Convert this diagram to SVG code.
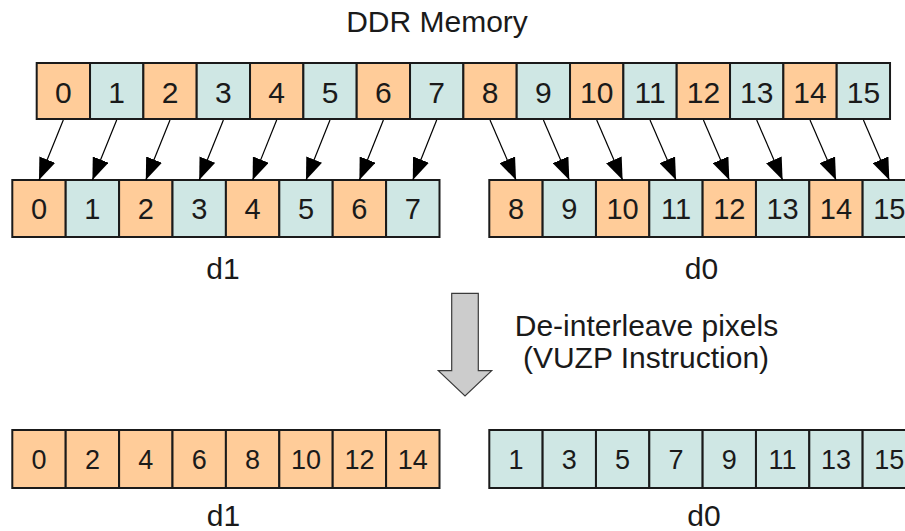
<svg xmlns="http://www.w3.org/2000/svg" width="905" height="531" viewBox="0 0 905 531">
<defs>
<style>
.o{fill:#ffcc99;stroke:#1a1a1a;stroke-width:2}
.t{fill:#cfe7e4;stroke:#1a1a1a;stroke-width:2}
text{font-family:"Liberation Sans",Arial,sans-serif;fill:#1a1a1a;text-anchor:middle}
.n1{font-size:30px}
.n2{font-size:29px}
.n3{font-size:27px}
.lb{font-size:30px}
.c{stroke:#000;stroke-width:1.2;fill:none;marker-end:url(#ah)}
</style>
<marker id="ah" viewBox="0 0 22 17" refX="22" refY="8.5" markerWidth="22" markerHeight="17" markerUnits="userSpaceOnUse" orient="auto">
<path d="M0,0 L22,8.5 L0,17 z" fill="#000"/>
</marker>
</defs>
<rect width="905" height="531" fill="#fff"/>
<text class="lb" x="437" y="32">DDR Memory</text>

<g id="ddr">
<rect class="o" x="36.7" y="63" width="53.33" height="56"/><text class="n1" x="63.3" y="102.5">0</text>
<rect class="t" x="90.03" y="63" width="53.33" height="56"/><text class="n1" x="116.7" y="102.5">1</text>
<rect class="o" x="143.37" y="63" width="53.33" height="56"/><text class="n1" x="170" y="102.5">2</text>
<rect class="t" x="196.7" y="63" width="53.33" height="56"/><text class="n1" x="223.4" y="102.5">3</text>
<rect class="o" x="250.03" y="63" width="53.33" height="56"/><text class="n1" x="276.7" y="102.5">4</text>
<rect class="t" x="303.37" y="63" width="53.33" height="56"/><text class="n1" x="330" y="102.5">5</text>
<rect class="o" x="356.7" y="63" width="53.33" height="56"/><text class="n1" x="383.4" y="102.5">6</text>
<rect class="t" x="410.03" y="63" width="53.33" height="56"/><text class="n1" x="436.7" y="102.5">7</text>
<rect class="o" x="463.37" y="63" width="53.33" height="56"/><text class="n1" x="490" y="102.5">8</text>
<rect class="t" x="516.7" y="63" width="53.33" height="56"/><text class="n1" x="543.4" y="102.5">9</text>
<rect class="o" x="570.03" y="63" width="53.33" height="56"/><text class="n1" x="596.7" y="102.5">10</text>
<rect class="t" x="623.37" y="63" width="53.33" height="56"/><text class="n1" x="650" y="102.5">11</text>
<rect class="o" x="676.7" y="63" width="53.33" height="56"/><text class="n1" x="703.4" y="102.5">12</text>
<rect class="t" x="730.03" y="63" width="53.33" height="56"/><text class="n1" x="756.7" y="102.5">13</text>
<rect class="o" x="783.37" y="63" width="53.33" height="56"/><text class="n1" x="810" y="102.5">14</text>
<rect class="t" x="836.7" y="63" width="53.33" height="56"/><text class="n1" x="863.4" y="102.5">15</text>
</g>

<g id="d1-interleaved">
<rect class="o" x="12.3" y="180" width="53.4" height="57"/><text class="n2" x="39" y="219">0</text>
<rect class="t" x="65.7" y="180" width="53.4" height="57"/><text class="n2" x="92.4" y="219">1</text>
<rect class="o" x="119.1" y="180" width="53.4" height="57"/><text class="n2" x="145.8" y="219">2</text>
<rect class="t" x="172.5" y="180" width="53.4" height="57"/><text class="n2" x="199.2" y="219">3</text>
<rect class="o" x="225.9" y="180" width="53.4" height="57"/><text class="n2" x="252.6" y="219">4</text>
<rect class="t" x="279.3" y="180" width="53.4" height="57"/><text class="n2" x="306" y="219">5</text>
<rect class="o" x="332.7" y="180" width="53.4" height="57"/><text class="n2" x="359.4" y="219">6</text>
<rect class="t" x="386.1" y="180" width="53.4" height="57"/><text class="n2" x="412.8" y="219">7</text>
<text class="lb" x="223" y="279">d1</text>
</g>

<g id="d0-interleaved">
<rect class="o" x="489.3" y="180" width="53.33" height="57"/><text class="n2" x="516" y="219">8</text>
<rect class="t" x="542.63" y="180" width="53.33" height="57"/><text class="n2" x="569.3" y="219">9</text>
<rect class="o" x="595.97" y="180" width="53.33" height="57"/><text class="n2" x="622.6" y="219">10</text>
<rect class="t" x="649.3" y="180" width="53.33" height="57"/><text class="n2" x="676" y="219">11</text>
<rect class="o" x="702.63" y="180" width="53.33" height="57"/><text class="n2" x="729.3" y="219">12</text>
<rect class="t" x="755.97" y="180" width="53.33" height="57"/><text class="n2" x="782.6" y="219">13</text>
<rect class="o" x="809.3" y="180" width="53.33" height="57"/><text class="n2" x="836" y="219">14</text>
<rect class="t" x="862.63" y="180" width="53.33" height="57"/><text class="n2" x="889.3" y="219">15</text>
<text class="lb" x="701.5" y="279">d0</text>
</g>

<g id="connectors">
<line class="c" x1="63.3" y1="120" x2="39" y2="180"/>
<line class="c" x1="116.7" y1="120" x2="92.4" y2="180"/>
<line class="c" x1="170" y1="120" x2="145.8" y2="180"/>
<line class="c" x1="223.4" y1="120" x2="199.2" y2="180"/>
<line class="c" x1="276.7" y1="120" x2="252.6" y2="180"/>
<line class="c" x1="330" y1="120" x2="306" y2="180"/>
<line class="c" x1="383.4" y1="120" x2="359.4" y2="180"/>
<line class="c" x1="436.7" y1="120" x2="412.8" y2="180"/>
<line class="c" x1="490" y1="120" x2="516" y2="180"/>
<line class="c" x1="543.4" y1="120" x2="569.3" y2="180"/>
<line class="c" x1="596.7" y1="120" x2="622.6" y2="180"/>
<line class="c" x1="650" y1="120" x2="676" y2="180"/>
<line class="c" x1="703.4" y1="120" x2="729.3" y2="180"/>
<line class="c" x1="756.7" y1="120" x2="782.6" y2="180"/>
<line class="c" x1="810" y1="120" x2="836" y2="180"/>
<line class="c" x1="863.4" y1="120" x2="889.3" y2="180"/>
</g>

<g id="deinterleave-arrow">
<polygon points="451.7,293.3 478.3,293.3 478.3,370.7 491.7,370.7 465,396 438.3,370.7 451.7,370.7" fill="#cccccc" stroke="#3a3a3a" stroke-width="1.2"/>
<text class="lb" x="646.5" y="336">De-interleave pixels</text>
<text class="lb" x="646" y="368">(VUZP Instruction)</text>
</g>

<g id="d1-result">
<rect class="o" x="12.3" y="430" width="53.4" height="58"/><text class="n3" x="39" y="469">0</text>
<rect class="o" x="65.7" y="430" width="53.4" height="58"/><text class="n3" x="92.4" y="469">2</text>
<rect class="o" x="119.1" y="430" width="53.4" height="58"/><text class="n3" x="145.8" y="469">4</text>
<rect class="o" x="172.5" y="430" width="53.4" height="58"/><text class="n3" x="199.2" y="469">6</text>
<rect class="o" x="225.9" y="430" width="53.4" height="58"/><text class="n3" x="252.6" y="469">8</text>
<rect class="o" x="279.3" y="430" width="53.4" height="58"/><text class="n3" x="306" y="469">10</text>
<rect class="o" x="332.7" y="430" width="53.4" height="58"/><text class="n3" x="359.4" y="469">12</text>
<rect class="o" x="386.1" y="430" width="53.4" height="58"/><text class="n3" x="412.8" y="469">14</text>
<text class="lb" x="223.5" y="526">d1</text>
</g>

<g id="d0-result">
<rect class="t" x="489.3" y="430" width="53.33" height="58"/><text class="n3" x="516" y="469">1</text>
<rect class="t" x="542.63" y="430" width="53.33" height="58"/><text class="n3" x="569.3" y="469">3</text>
<rect class="t" x="595.97" y="430" width="53.33" height="58"/><text class="n3" x="622.6" y="469">5</text>
<rect class="t" x="649.3" y="430" width="53.33" height="58"/><text class="n3" x="676" y="469">7</text>
<rect class="t" x="702.63" y="430" width="53.33" height="58"/><text class="n3" x="729.3" y="469">9</text>
<rect class="t" x="755.97" y="430" width="53.33" height="58"/><text class="n3" x="782.6" y="469">11</text>
<rect class="t" x="809.3" y="430" width="53.33" height="58"/><text class="n3" x="836" y="469">13</text>
<rect class="t" x="862.63" y="430" width="53.33" height="58"/><text class="n3" x="889.3" y="469">15</text>
<text class="lb" x="704" y="526">d0</text>
</g>
</svg>
